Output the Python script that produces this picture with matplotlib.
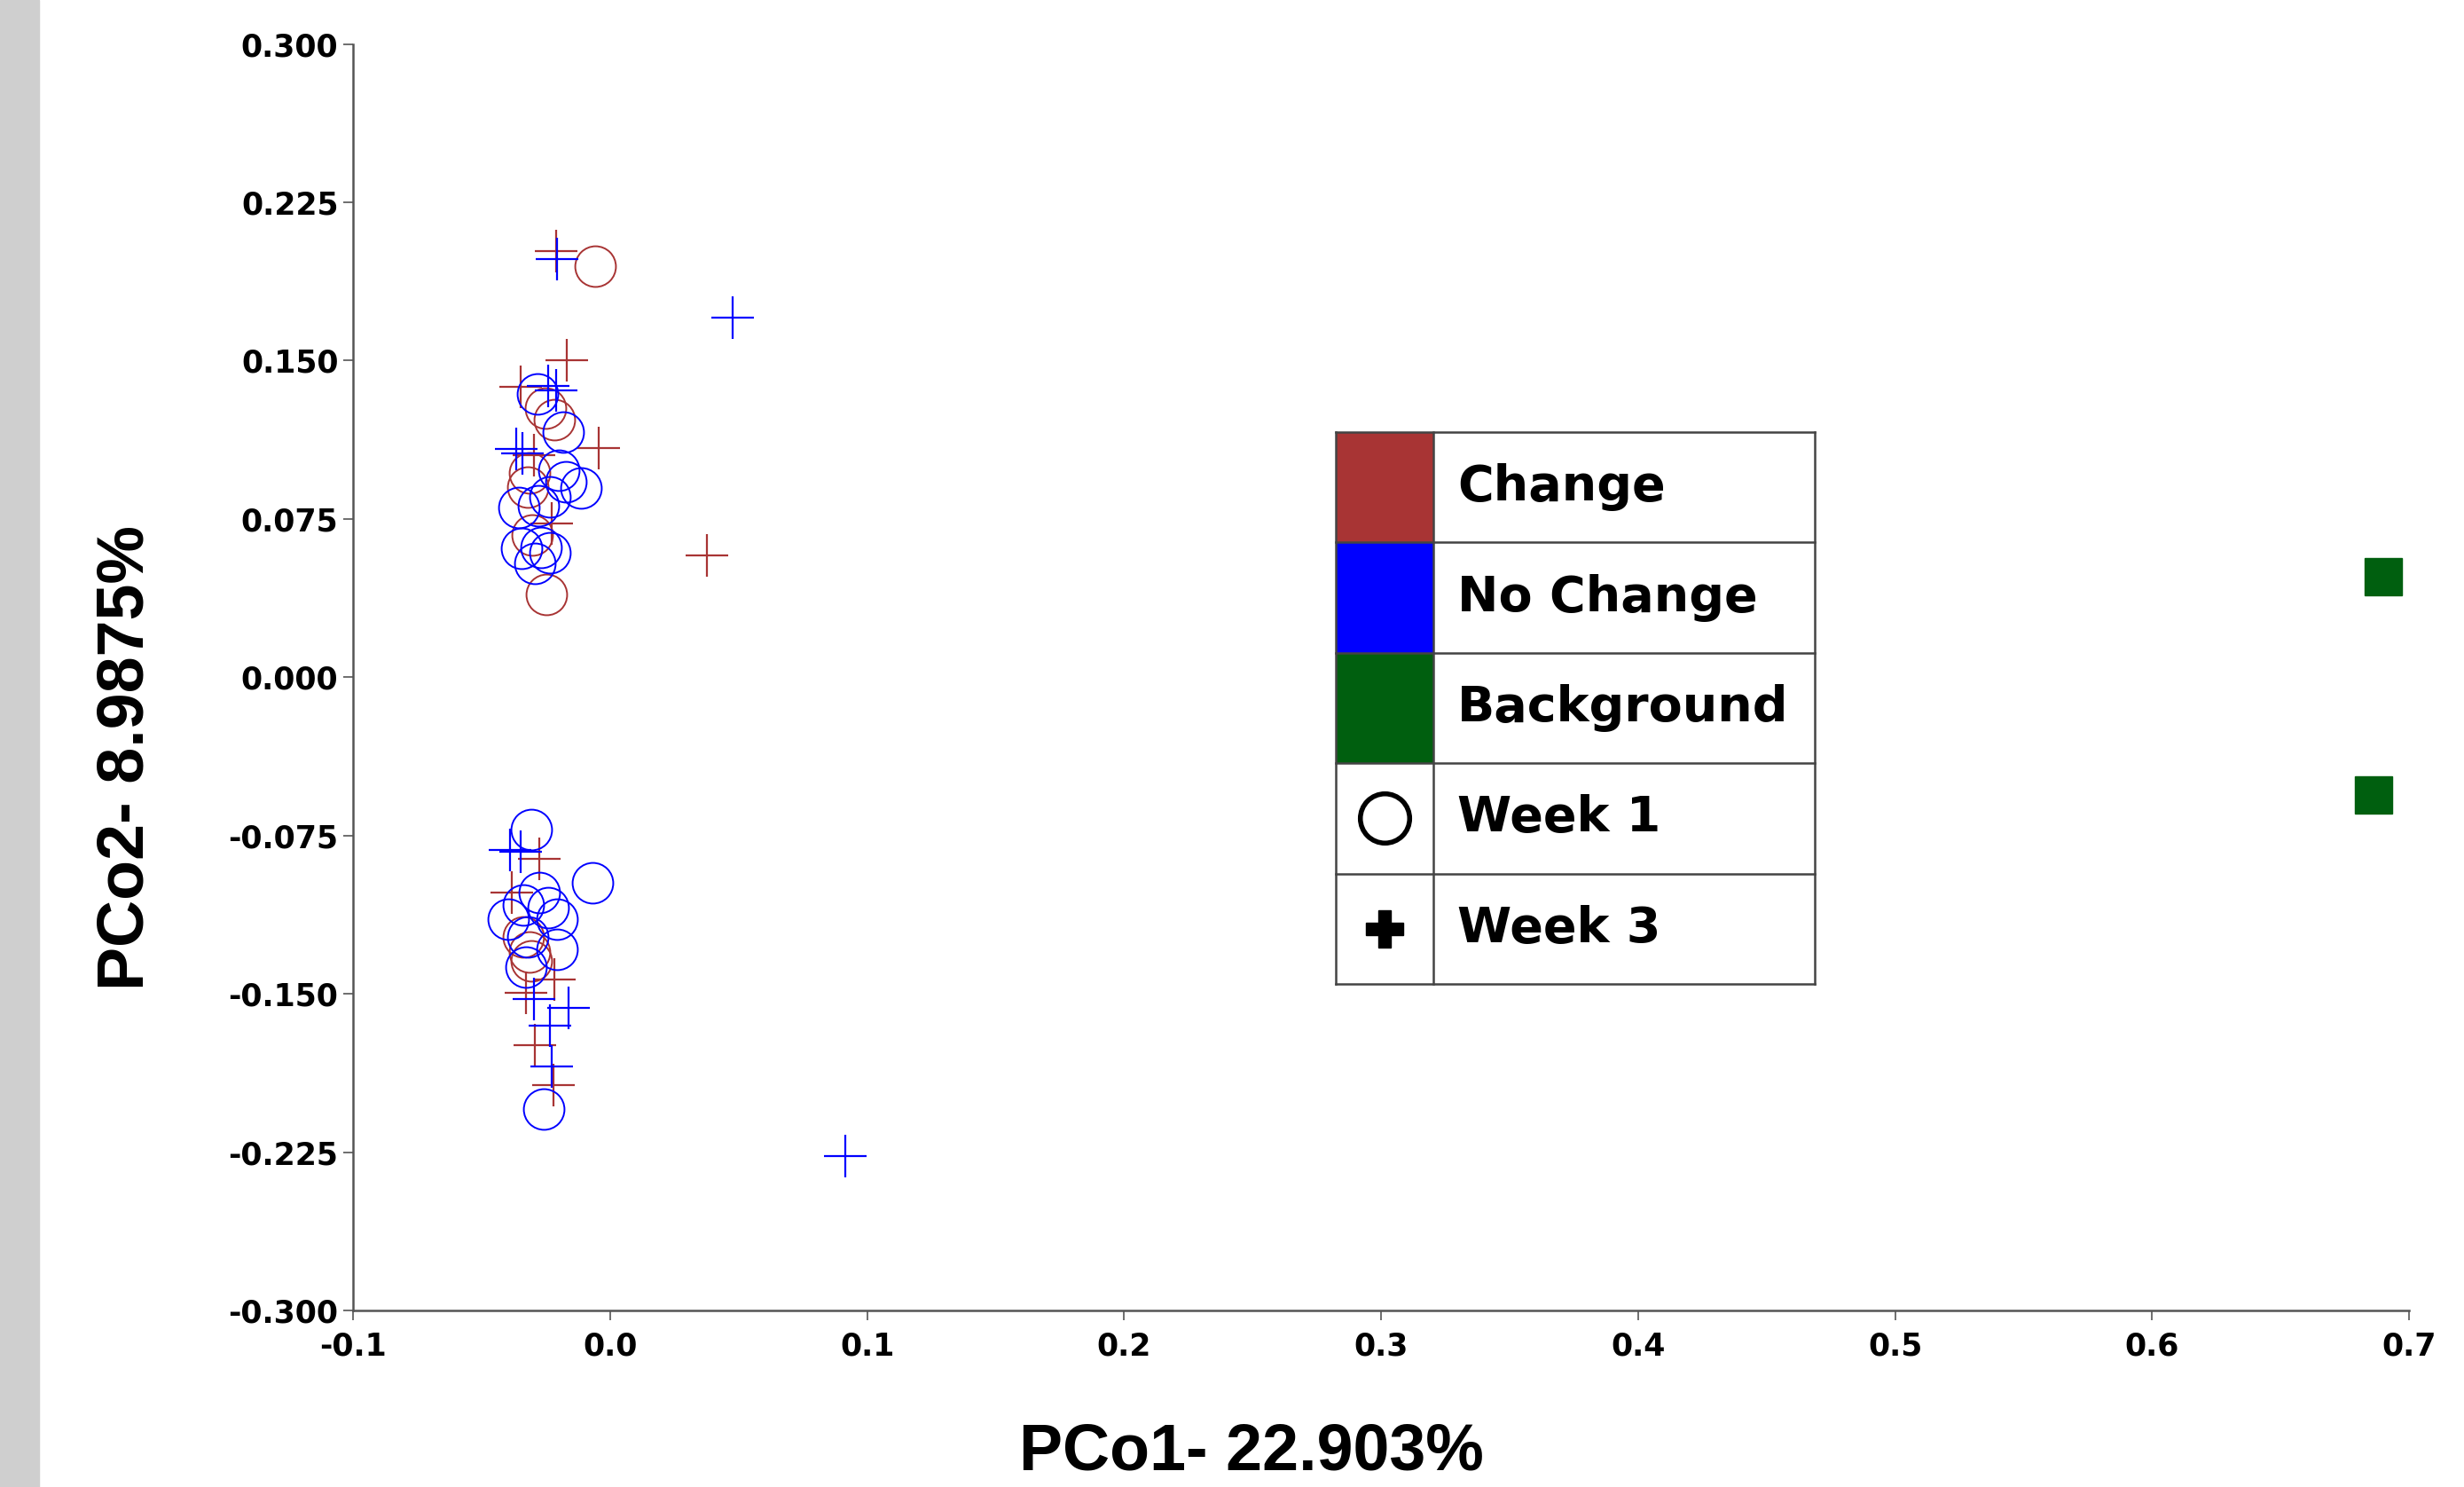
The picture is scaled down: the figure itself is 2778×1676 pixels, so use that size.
import numpy as np
import matplotlib.pyplot as plt
from matplotlib.patches import Rectangle

# values
change_w1_x = [-0.0058, -0.025, -0.0217, -0.0314, -0.032, -0.0303, -0.0248, -0.0337, -0.0314, -0.0308]
change_w1_y = [0.1948, 0.1276, 0.122, 0.0969, 0.090, 0.0673, 0.0393, -0.1231, -0.1301, -0.1343]

change_w3_x = [-0.0211, -0.0168, -0.0349, -0.0044, -0.0297, -0.0228, 0.0378, -0.0274, -0.0383, -0.0217, -0.0326, -0.0292, -0.0222]
change_w3_y = [0.202, 0.1504, 0.1376, 0.1084, 0.1053, 0.073, 0.0578, -0.086, -0.1021, -0.1434, -0.1497, -0.1742, -0.1931]

nochange_w1_x = [-0.0283, -0.0184, -0.020, -0.0173, -0.0115, -0.0234, -0.0355, -0.028, -0.0343, -0.0268, -0.0234, -0.0292,
                 -0.0308, -0.0067, -0.0274, -0.024, -0.0206, -0.0395, -0.0337, -0.0206, -0.032, -0.0326, -0.0257]
nochange_w1_y = [0.1343, 0.1163, 0.098, 0.0926, 0.0897, 0.0855, 0.0806, 0.0813, 0.0611, 0.0617, 0.0589, 0.054,
                 -0.072, -0.0972, -0.1021, -0.1091, -0.1147, -0.1147, -0.1077, -0.1287, -0.1231, -0.1371, -0.2047]

nochange_w3_x = [-0.0205, 0.0477, -0.024, -0.021, -0.0366, -0.034, -0.0389, -0.0349, -0.0297, -0.016, -0.0234, -0.0228, 0.0914]
nochange_w3_y = [0.198, 0.1703, 0.138, 0.136, 0.108, 0.106, -0.0818, -0.0825, -0.1526, -0.1568, -0.1649, -0.1845, -0.227]

background_x = [0.690, 0.6863]
background_y = [0.0477, -0.0556]

legend_labels = ["Change", "No Change", "Background", "Week 1", "Week 3"]

red = '#a83434'
blue = '#0000ff'
green = '#005f0f'

fig = plt.figure(figsize=(27.78, 16.76), dpi=100)
fig.patches.append(Rectangle((0, 0), 44 / 2778, 1, transform=fig.transFigure, color='#cfcfcf', zorder=0))

ax = fig.add_axes([0.1433, 0.1187, 0.8344, 0.8517])
ax.plot(change_w1_x, change_w1_y, ls='none', marker='o', ms=33, mfc='none', mec=red, mew=1.4)
ax.plot(change_w3_x, change_w3_y, ls='none', marker='+', ms=34, mec=red, mew=1.6)
ax.plot(nochange_w1_x, nochange_w1_y, ls='none', marker='o', ms=33, mfc='none', mec=blue, mew=1.4)
ax.plot(nochange_w3_x, nochange_w3_y, ls='none', marker='+', ms=34, mec=blue, mew=1.6)
ax.plot(background_x, background_y, ls='none', marker='s', ms=30, mfc=green, mec=green)

ax.set_xlim(-0.1, 0.7)
ax.set_ylim(-0.3, 0.3)
ax.set_xticks(np.arange(-0.1, 0.71, 0.1))
ax.set_xticklabels(['-0.1', '0.0', '0.1', '0.2', '0.3', '0.4', '0.5', '0.6', '0.7'])
ax.set_yticks(np.arange(-0.3, 0.301, 0.075))
ax.set_yticklabels(['%.3f' % v for v in np.arange(-0.3, 0.301, 0.075)])
for s in ['top', 'right']:
    ax.spines[s].set_visible(False)
for s in ['left', 'bottom']:
    ax.spines[s].set_color('#555555')
    ax.spines[s].set_linewidth(1.8)
ax.tick_params(axis='both', direction='out', length=8, width=1.2, color='#555555', labelsize=25, pad=4)
ax.tick_params(axis='x', pad=9)
for lab in ax.get_xticklabels() + ax.get_yticklabels():
    lab.set_fontweight('bold')
    lab.set_family('DejaVu Sans')

fig.text(0.508, 0.023, 'PCo1- 22.903%', ha='center', va='center', fontsize=53,
         fontweight='bold', family='Liberation Sans')
fig.text(0.051, 0.4905, 'PCo2- 8.9875%', ha='center', va='center', rotation=90, fontsize=53,
         fontweight='bold', family='Liberation Sans')

# legend drawn as a table
lg = fig.add_axes([0.5421, 0.3383, 0.1945, 0.3711])
lg.set_xlim(0, 1)
lg.set_ylim(0, 5)
lg.axis('off')
div = (1616 - 1506) / (2046 - 1506)
swatches = [red, blue, green]
for i, lab in enumerate(legend_labels):
    y0 = 4 - i
    if i < 3:
        lg.add_patch(Rectangle((0, y0), div, 1, facecolor=swatches[i], edgecolor='none'))
    lg.text(div + 0.05, y0 + 0.5, lab, va='center', ha='left', fontsize=40, fontweight='bold', family='DejaVu Sans')
lg.plot([div / 2], [1.5], marker='o', ms=40, mfc='none', mec='black', mew=4)
lg.plot([div / 2], [0.5], marker='P', ms=30, mfc='black', mec='black')
for k in range(6):
    lg.plot([0, 1], [k, k], color='#444444', lw=1.8, clip_on=False)
for xx in [0, div, 1]:
    lg.plot([xx, xx], [0, 5], color='#444444', lw=1.8, clip_on=False)

fig.savefig('out.png', dpi=100, facecolor='white')
